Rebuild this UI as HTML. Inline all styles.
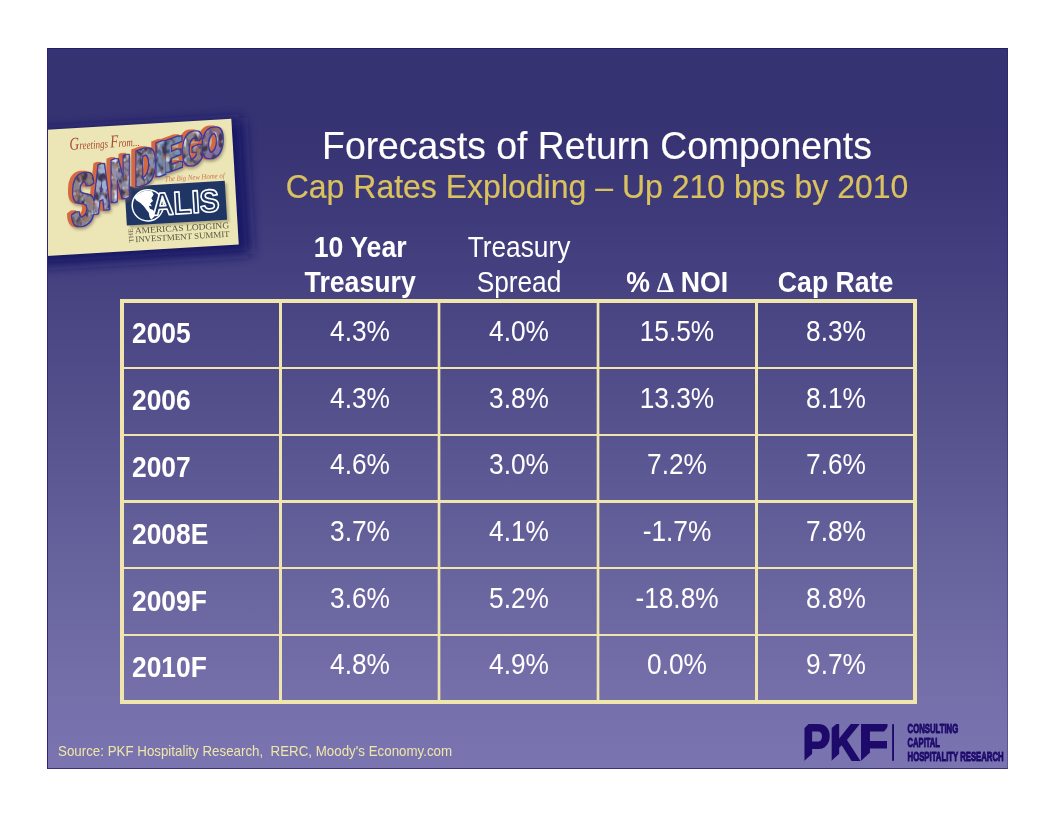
<!DOCTYPE html>
<html lang="en">
<head>
<meta charset="utf-8">
<title>Forecasts of Return Components</title>
<style>
html,body{margin:0;padding:0;background:#fff;}
body{width:1056px;height:816px;position:relative;overflow:hidden;font-family:"Liberation Sans",Arial,sans-serif;}
#slide{position:absolute;left:47px;top:48px;width:961px;height:721px;overflow:hidden;
  background:linear-gradient(to bottom,#363372 0%,#363372 9%,#383473 13%,#3e3979 22%,#54508c 50%,#66629c 70.8%,#7570aa 90%,#7a75b1 100%);}
#slide .edge{position:absolute;left:0;top:0;right:0;bottom:0;box-sizing:border-box;border-style:solid;border-width:1px;border-color:#221d68 rgba(24,18,100,.3) #36317f #2c267b;}
.t{position:absolute;white-space:pre;line-height:1;margin:0;transform:scaleY(1.04);transform-origin:50% 84.65%;}
#title{left:-1px;width:1102px;text-align:center;top:79.8px;font-size:37.33px;color:#fff;font-weight:400;-webkit-text-stroke:0.15px #fff;}
#sub{left:-1px;width:1102px;text-align:center;top:123px;font-size:32px;color:#dac25e;font-weight:400;-webkit-text-stroke:0.2px #dac25e;}
#grid{position:absolute;left:73px;top:251px;width:797px;height:405px;box-sizing:border-box;border:4px solid #efe5ad;}
.v{position:absolute;top:0;bottom:0;width:3px;background:#efe5ad;}
.v.s{width:4px;background:linear-gradient(to right,rgba(239,229,173,.3) 0 1px,#efe5ad 1px 3px,rgba(239,229,173,.35) 3px 4px);}
.h{position:absolute;left:0;right:0;height:2px;background:#efe5ad;}
.c{position:absolute;white-space:pre;line-height:1;font-size:26.67px;color:#fff;text-align:center;width:170px;transform:scale(0.985,1.075);transform-origin:50% 84.65%;}
.b{font-weight:700;transform:scale(1,1.075);}
.hd{}
.dl{font-family:"Liberation Serif",serif;font-weight:700;font-size:27.5px;line-height:0;letter-spacing:-0.5px;margin-left:-0.8px;}
.y{text-align:left;font-weight:700;transform:scale(0.99,1.075);transform-origin:0 84.65%;}
#src{left:11px;top:697px;font-size:13.33px;color:#eee8a8;}
</style>
</head>
<body>
<div id="slide">
  <svg id="art" width="961" height="721" viewBox="47 48 961 721" style="position:absolute;left:0;top:0;overflow:hidden">
    <defs>
      <filter id="blur6" x="-30%" y="-30%" width="160%" height="160%"><feGaussianBlur stdDeviation="6.5"/></filter>
      <filter id="blur1" x="-20%" y="-20%" width="140%" height="140%"><feGaussianBlur stdDeviation="0.8"/></filter>
      <linearGradient id="photo" gradientUnits="userSpaceOnUse" x1="72" y1="0" x2="222" y2="0">
        <stop offset="0" stop-color="#8d8791"/>
        <stop offset="0.13" stop-color="#8a8088"/>
        <stop offset="0.2" stop-color="#9fb0d4"/>
        <stop offset="0.3" stop-color="#8c8aa6"/>
        <stop offset="0.4" stop-color="#8f8594"/>
        <stop offset="0.5" stop-color="#8e93ad"/>
        <stop offset="0.62" stop-color="#6d8db5"/>
        <stop offset="0.72" stop-color="#6f93b3"/>
        <stop offset="0.82" stop-color="#94807e"/>
        <stop offset="0.92" stop-color="#7d70a8"/>
        <stop offset="1" stop-color="#8a78a6"/>
      </linearGradient>
    <filter id="extrude" filterUnits="userSpaceOnUse" x="60" y="115" width="175" height="125" color-interpolation-filters="sRGB">
        <feMorphology in="SourceAlpha" operator="dilate" radius="0.8 0.3" result="fa"/>
        <feMorphology in="SourceAlpha" operator="dilate" radius="1.8 1.2" result="a"/>
        <feOffset in="a" dx="-1" dy="-0.15" result="o1"/>
        <feOffset in="a" dx="-2" dy="-0.3" result="o2"/>
        <feOffset in="a" dx="-3" dy="-0.45" result="o3"/>
        <feOffset in="a" dx="-3.8" dy="-0.6" result="o4"/>
        <feMerge result="m"><feMergeNode in="o1"/><feMergeNode in="o2"/><feMergeNode in="o3"/><feMergeNode in="o4"/></feMerge>
        <feFlood flood-color="#d4683e"/>
        <feComposite in2="m" operator="in" result="ext"/>
        <feGaussianBlur in="m" stdDeviation="1.6" result="mb"/>
        <feOffset in="mb" dx="1.5" dy="2" result="mbo"/>
        <feFlood flood-color="#6b5a4a" flood-opacity="0.55"/>
        <feComposite in2="mbo" operator="in" result="shadow"/>
        <feFlood flood-color="#3d38a0"/>
        <feComposite in2="a" operator="in" result="outl"/>
        <feMorphology in="SourceGraphic" operator="dilate" radius="0.8 0.3" result="base"/>
        <feTurbulence type="fractalNoise" baseFrequency="0.16 0.11" numOctaves="2" seed="11" result="noise"/>
        <feColorMatrix in="noise" type="matrix" values="0 0 0 0 0.85  0 0 0 0 0.88  0 0 0 0 0.95  4 0 0 0 -2.35" result="hl"/>
        <feColorMatrix in="noise" type="matrix" values="0 0 0 0 0.25  0 0 0 0 0.22  0 0 0 0 0.32  0 -4 0 0 2.15" result="dk"/>
        <feColorMatrix in="noise" type="matrix" values="0 0 0 0 0.6  0 0 0 0 0.42  0 0 0 0 0.32  0 0 4 0 -1.9" result="br"/>
        <feMerge result="tex"><feMergeNode in="base"/><feMergeNode in="br"/><feMergeNode in="dk"/><feMergeNode in="hl"/></feMerge>
        <feComposite in="tex" in2="fa" operator="in" result="face"/>
        <feMerge><feMergeNode in="shadow"/><feMergeNode in="ext"/><feMergeNode in="outl"/><feMergeNode in="face"/></feMerge>
      </filter>
    <mask id="pkfcut" maskUnits="userSpaceOnUse" x="795" y="715" width="100" height="55">
        <rect x="795" y="715" width="100" height="55" fill="#fff"/>
        <path d="M803.8 761.2 L812.9 753.3 L814.5 753.3 L814.5 762 L803.8 762 Z M830.9 761.2 L839 754 L840.8 754 L840.8 762 L830.9 762 Z M860.6 761.2 L869.2 753.3 L871 753.3 L871 762 L860.6 762 Z M803.5 724 L808.6 724 L803.5 729 Z M830.5 723 L837.5 723 L830.5 729 Z M888.2 726 L888.2 732.5 L883.5 732.5 Z" fill="#000"/>
      </mask>
    </defs>
    <!-- postcard -->
    <g transform="translate(231.3 118.8) rotate(-3.4)">
      <rect x="-203" y="0" width="215" height="136" fill="#191365" opacity="1" filter="url(#blur6)"/>
      <rect x="-200" y="0" width="200" height="126" fill="#ece5b5"/>
      <text x="-163" y="21.5" font-family="'Liberation Serif',serif" font-style="italic" font-size="12" fill="#a94a31" textLength="70" lengthAdjust="spacingAndGlyphs"><tspan font-size="18">G</tspan>reetings <tspan font-size="18">F</tspan>rom...</text>
      <text x="-70" y="58.6" font-family="'Liberation Serif',serif" font-style="italic" font-size="7.5" fill="#c4593c" opacity="0.8" textLength="60" lengthAdjust="spacingAndGlyphs">The Big New Home of</text>
      <!-- ALIS block -->
      <rect x="-108" y="64" width="100" height="39" fill="#8d8661" opacity="0.55" filter="url(#blur1)"/>
      <rect x="-110.6" y="61.4" width="100.4" height="39" fill="#1f3664"/>
      <circle cx="-88.5" cy="81.4" r="15.6" fill="#1f3664" stroke="#fff" stroke-width="1.5"/>
      <path d="M-101.5 73 Q-97 67.5 -89 66.5 L-83.5 67.5 L-82 71 L-84.5 74.5 L-83 77.5 L-86 79.5 L-84.5 82.5 L-87.5 82 L-86.5 85 L-83.5 86.5 L-81.5 89.5 L-83 93.5 L-86 96 L-87.5 93 L-88 89 L-90 86 L-92.5 82 L-96 78.5 L-99.5 76 Z" fill="#fff"/>
      <text x="-84.2" y="91.8" font-family="'Liberation Sans',sans-serif" font-weight="700" font-size="32" fill="#1f3664" stroke="#fff" stroke-width="1.7" stroke-linejoin="round" textLength="67.5" lengthAdjust="spacingAndGlyphs">ALIS</text>
      <text transform="translate(-105 117.5) rotate(-90)" font-family="'Liberation Serif',serif" font-size="6.5" fill="#55543f" textLength="14" lengthAdjust="spacingAndGlyphs">THE</text>
      <text x="-103" y="108.9" font-family="'Liberation Serif',serif" font-size="8.6" fill="#55543f" textLength="94.5" lengthAdjust="spacingAndGlyphs">AMERICAS LODGING</text>
      <text x="-103" y="117.6" font-family="'Liberation Serif',serif" font-size="8.6" fill="#55543f" textLength="94.5" lengthAdjust="spacingAndGlyphs">INVESTMENT SUMMIT</text>
    </g>
    <!-- SAN DIEGO lettering -->
    <g id="sandiego" filter="url(#extrude)">
      <text transform="matrix(1 -0.38 0 1 0 0)" font-family="'Liberation Sans',sans-serif" font-weight="700" fill="url(#photo)"><tspan x="72.0" y="256.3" font-size="73.4" textLength="22.3" lengthAdjust="spacingAndGlyphs">S</tspan><tspan x="93.5" y="250.0" font-size="68.3" textLength="15.6" lengthAdjust="spacingAndGlyphs">A</tspan><tspan x="110.8" y="245.3" font-size="61.0" textLength="18.9" lengthAdjust="spacingAndGlyphs">N</tspan><tspan x="131.0" y="244.8" font-size="6"> </tspan><tspan x="135.5" y="238.7" font-size="50.9" textLength="19.7" lengthAdjust="spacingAndGlyphs">D</tspan><tspan x="154.1" y="236.4" font-size="48.0" textLength="13.9" lengthAdjust="spacingAndGlyphs">I</tspan><tspan x="164.6" y="235.5" font-size="45.1" textLength="17.6" lengthAdjust="spacingAndGlyphs">E</tspan><tspan x="183.0" y="237.7" font-size="46.6" textLength="19.6" lengthAdjust="spacingAndGlyphs">G</tspan><tspan x="202.2" y="238.2" font-size="41.9" textLength="20.7" lengthAdjust="spacingAndGlyphs">O</tspan></text>
    </g>
    <!-- PKF logo -->
    <g id="pkf">
      <text y="759.8" font-family="'Liberation Sans',sans-serif" font-weight="700" font-size="50.29" fill="#1e0a6b" stroke="#1e0a6b" stroke-width="2.0" stroke-linejoin="miter" mask="url(#pkfcut)"><tspan x="802.51" textLength="27.82" lengthAdjust="spacingAndGlyphs">P</tspan><tspan x="829.67" textLength="29.51" lengthAdjust="spacingAndGlyphs">K</tspan><tspan x="858.86" textLength="29.62" lengthAdjust="spacingAndGlyphs">F</tspan></text>
      <rect x="892.1" y="724.2" width="1.9" height="36.6" fill="#1e0a6b"/>
      <g font-family="'Liberation Sans',sans-serif" font-weight="700" font-size="12.9" fill="#1e0a6b" stroke="#1e0a6b" stroke-width="0.95" stroke-linejoin="round">
        <text x="907.6" y="733.4" textLength="50.6" lengthAdjust="spacingAndGlyphs">CONSULTING</text>
        <text x="907.6" y="747.2" textLength="32.4" lengthAdjust="spacingAndGlyphs">CAPITAL</text>
        <text x="907.6" y="760.7" textLength="96" lengthAdjust="spacingAndGlyphs">HOSPITALITY RESEARCH</text>
      </g>
    </g>
  </svg>
  <h1 class="t" id="title">Forecasts of Return Components</h1>
  <h2 class="t" id="sub">Cap Rates Exploding – Up 210 bps by 2010</h2>

  <div id="grid">
    <div class="v" style="left:155px"></div>
    <div class="v s" style="left:313px"></div>
    <div class="v s" style="left:472px"></div>
    <div class="v" style="left:631px"></div>
    <div class="h" style="top:64px"></div>
    <div class="h" style="top:131px"></div>
    <div class="h" style="top:197px;height:3px"></div>
    <div class="h" style="top:264px"></div>
    <div class="h" style="top:331px"></div>
  </div>

  <div class="c b hd" id="h0a" style="left:228.20px;top:187.42px">10 Year</div>
  <div class="c b hd" id="h0b" style="left:228.20px;top:222.22px">Treasury</div>
  <div class="c hd" id="h1a" style="left:387.00px;top:187.42px">Treasury</div>
  <div class="c hd" id="h1b" style="left:387.00px;top:222.22px">Spread</div>
  <div class="c b hd" id="h2b" style="left:545.30px;top:222.22px">% <span class="dl">Δ</span> NOI</div>
  <div class="c b hd" id="h3b" style="left:703.60px;top:222.22px">Cap Rate</div>
  <div class="c y" id="r0l" style="left:85.30px;top:273.42px">2005</div>
  <div class="c" id="r0c0" style="left:228.20px;top:271.42px">4.3%</div>
  <div class="c" id="r0c1" style="left:387.00px;top:271.42px">4.0%</div>
  <div class="c" id="r0c2" style="left:545.30px;top:271.42px">15.5%</div>
  <div class="c" id="r0c3" style="left:703.60px;top:271.42px">8.3%</div>
  <div class="c y" id="r1l" style="left:85.30px;top:340.42px">2006</div>
  <div class="c" id="r1c0" style="left:228.20px;top:338.42px">4.3%</div>
  <div class="c" id="r1c1" style="left:387.00px;top:338.42px">3.8%</div>
  <div class="c" id="r1c2" style="left:545.30px;top:338.42px">13.3%</div>
  <div class="c" id="r1c3" style="left:703.60px;top:338.42px">8.1%</div>
  <div class="c y" id="r2l" style="left:85.30px;top:407.42px">2007</div>
  <div class="c" id="r2c0" style="left:228.20px;top:404.42px">4.6%</div>
  <div class="c" id="r2c1" style="left:387.00px;top:404.42px">3.0%</div>
  <div class="c" id="r2c2" style="left:545.30px;top:404.42px">7.2%</div>
  <div class="c" id="r2c3" style="left:703.60px;top:404.42px">7.6%</div>
  <div class="c y" id="r3l" style="left:85.30px;top:474.42px">2008E</div>
  <div class="c" id="r3c0" style="left:228.20px;top:471.42px">3.7%</div>
  <div class="c" id="r3c1" style="left:387.00px;top:471.42px">4.1%</div>
  <div class="c" id="r3c2" style="left:545.30px;top:471.42px">-1.7%</div>
  <div class="c" id="r3c3" style="left:703.60px;top:471.42px">7.8%</div>
  <div class="c y" id="r4l" style="left:85.30px;top:541.42px">2009F</div>
  <div class="c" id="r4c0" style="left:228.20px;top:538.42px">3.6%</div>
  <div class="c" id="r4c1" style="left:387.00px;top:538.42px">5.2%</div>
  <div class="c" id="r4c2" style="left:545.30px;top:538.42px">-18.8%</div>
  <div class="c" id="r4c3" style="left:703.60px;top:538.42px">8.8%</div>
  <div class="c y" id="r5l" style="left:85.30px;top:607.42px">2010F</div>
  <div class="c" id="r5c0" style="left:228.20px;top:604.42px">4.8%</div>
  <div class="c" id="r5c1" style="left:387.00px;top:604.42px">4.9%</div>
  <div class="c" id="r5c2" style="left:545.30px;top:604.42px">0.0%</div>
  <div class="c" id="r5c3" style="left:703.60px;top:604.42px">9.7%</div>

  <div class="t" id="src">Source: PKF Hospitality Research,  RERC, Moody's Economy.com</div>
  <div class="edge"></div>
</div>
</body>
</html>
